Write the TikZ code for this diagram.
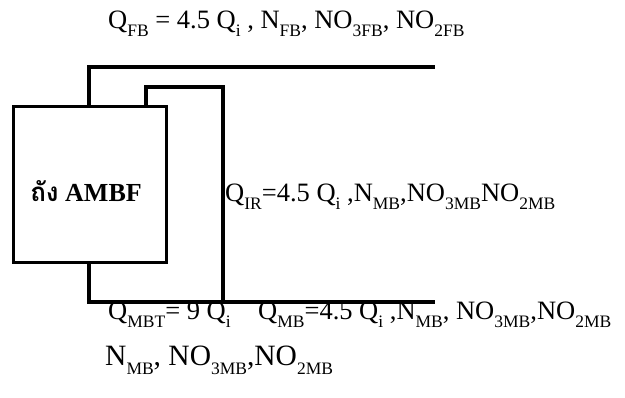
\documentclass[tikz,border=0pt]{standalone}
\usepackage{fontspec}
\setmainfont{Liberation Serif}
\newfontfamily\thaifont[Script=Thai]{Loma}
\newcommand{\lsub}[1]{\raisebox{-0.3em}{\fontsize{17.5}{17.5}\selectfont #1}}
\begin{document}
\begin{tikzpicture}[x=1pt,y=1pt,
  pipe/.style={line width=3.2pt, line cap=butt, line join=miter},
  lbl/.style={anchor=base west, inner sep=0pt, font=\fontsize{26.5}{26.5}\selectfont},
  tank/.style={draw, line width=3pt, minimum width=153pt, minimum height=156pt, inner sep=0pt}]
\useasboundingbox (0,0) rectangle (625,-398);
\node[tank] (box) at (89.5,-185) {};
\node[anchor=base, inner sep=0pt, font=\fontsize{26}{26}\selectfont\bfseries] (boxtxt) at (86,-202) {{\thaifont ถัง} AMBF};
% corners
\coordinate (t0) at (89,-107);
\coordinate (t1) at (89,-67);
\coordinate (t2) at (435,-67);
\coordinate (i0) at (146,-107);
\coordinate (i1) at (146,-87);
\coordinate (i2) at (223,-87);
\coordinate (i3) at (223,-302);
\coordinate (b0) at (89,-263);
\coordinate (b1) at (89,-302);
\coordinate (b2) at (435,-302);
\draw[pipe] (t0) -- (t1) -- (t2);
\draw[pipe] (i0) -- (i1) -- (i2) -- (i3);
\draw[pipe] (b0) -- (b1) -- (b2);
% labels
\node[lbl] (lfb) at (108,-29) {Q\lsub{FB} = 4.5 Q\lsub{i} , N\lsub{FB}, NO\lsub{3FB}, NO\lsub{2FB}};
\node[lbl] (lir) at (225,-202) {Q\lsub{IR}=4.5 Q\lsub{i} ,N\lsub{MB},NO\lsub{3MB}NO\lsub{2MB}};
\node[lbl] (lmbt) at (108,-320) {Q\lsub{MBT}= 9 Q\lsub{i}};
\node[lbl] (lmb) at (258,-320) {Q\lsub{MB}=4.5 Q\lsub{i} ,N\lsub{MB}, NO\lsub{3MB},NO\lsub{2MB}};
\node[lbl, font=\fontsize{29.5}{29.5}\selectfont] (lbot) at (105,-366) {N\lsub{MB}, NO\lsub{3MB},NO\lsub{2MB}};
\end{tikzpicture}
\end{document}
